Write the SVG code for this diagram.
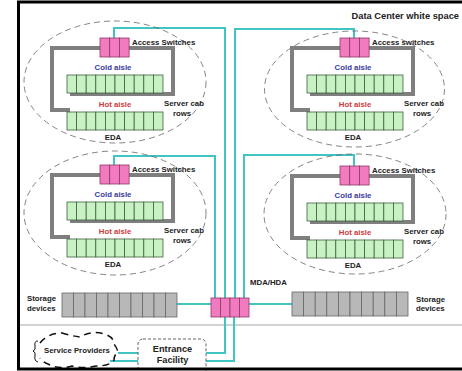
<svg xmlns="http://www.w3.org/2000/svg" width="462" height="371" viewBox="0 0 462 371">
<defs>
<style>
text{font-family:"Liberation Sans",Arial,sans-serif;font-weight:bold;font-size:7.8px;fill:#222}
.cold{fill:#3a3a9e}
.hot{fill:#d03a3a}
.mid{text-anchor:middle}
.ell{fill:none;stroke:#666;stroke-width:0.8;stroke-dasharray:6 4}
.brk{fill:none;stroke:#7f7f7f;stroke-width:4}
.g{fill:#c9f2c4;stroke:#3f5f3f;stroke-width:0.8}
.p{fill:#f27bbf;stroke:#8c3a6a;stroke-width:0.8}
.s{fill:#b8b8b8;stroke:#666;stroke-width:0.8}
.cy{fill:none;stroke:#40c4c4;stroke-width:2}
</style>
<g id="rows">
<rect class="g" x="67" y="75" width="9.6" height="18"/><rect class="g" x="76.6" y="75" width="9.6" height="18"/><rect class="g" x="86.2" y="75" width="9.6" height="18"/><rect class="g" x="95.8" y="75" width="9.6" height="18"/><rect class="g" x="105.4" y="75" width="9.6" height="18"/><rect class="g" x="115" y="75" width="9.6" height="18"/><rect class="g" x="124.6" y="75" width="9.6" height="18"/><rect class="g" x="134.2" y="75" width="9.6" height="18"/><rect class="g" x="143.8" y="75" width="9.6" height="18"/><rect class="g" x="153.4" y="75" width="9.6" height="18"/>
<rect class="g" x="67" y="112" width="9.6" height="18"/><rect class="g" x="76.6" y="112" width="9.6" height="18"/><rect class="g" x="86.2" y="112" width="9.6" height="18"/><rect class="g" x="95.8" y="112" width="9.6" height="18"/><rect class="g" x="105.4" y="112" width="9.6" height="18"/><rect class="g" x="115" y="112" width="9.6" height="18"/><rect class="g" x="124.6" y="112" width="9.6" height="18"/><rect class="g" x="134.2" y="112" width="9.6" height="18"/><rect class="g" x="143.8" y="112" width="9.6" height="18"/><rect class="g" x="153.4" y="112" width="9.6" height="18"/>
</g>
<g id="sw">
<rect class="p" x="100" y="38" width="9.7" height="19"/><rect class="p" x="109.7" y="38" width="9.7" height="19"/><rect class="p" x="119.4" y="38" width="9.7" height="19"/>
</g>
<g id="room">
<path class="brk" d="M70 110 H52 V48 H173 V94 H70"/>
<use href="#rows"/>
<use href="#sw"/>
<text x="113" y="70" class="cold mid">Cold aisle</text>
<text x="115" y="107" class="hot mid">Hot aisle</text>
<text x="184" y="106" class="mid">Server cab</text>
<text x="182" y="116" class="mid">rows</text>
<text x="113" y="140" class="mid">EDA</text>
</g>
</defs>
<rect x="0" y="0" width="462" height="371" fill="#fff"/>
<line x1="20" y1="325" x2="462" y2="325" stroke="#c4c4c4" stroke-width="1.5"/>
<text x="459" y="19" style="font-size:9.3px;text-anchor:end">Data Center white space</text>

<g id="connectors">
<path class="cy" d="M114 38 V28 H225 V298"/>
<path class="cy" d="M354 38 V29 H235 V298"/>
<path class="cy" d="M114 165 V156 H215 V298"/>
<path class="cy" d="M354 166 V155 H244 V298"/>
<path class="cy" d="M177 304 H211"/>
<path class="cy" d="M249 304 H292"/>
<path class="cy" d="M225 317 V353 H206"/>
<path class="cy" d="M234 317 V361 H206"/>
<path class="cy" d="M118 353 H138"/>
<path class="cy" d="M110 361 H138"/>
</g>

<g id="room-tl">
<ellipse class="ell" cx="115" cy="82" rx="91" ry="61"/>
<use href="#room"/>
<text x="132" y="45">Access Switches</text>
</g>
<g id="room-tr">
<ellipse class="ell" cx="354.5" cy="89" rx="90" ry="58"/>
<use href="#room" transform="translate(240,0)"/>
<text x="372" y="45">Access switches</text>
</g>
<g id="room-bl">
<ellipse class="ell" cx="115" cy="213" rx="91" ry="62"/>
<use href="#room" transform="translate(0,127)"/>
<text x="132" y="172">Access Switches</text>
</g>
<g id="room-br">
<ellipse class="ell" cx="355" cy="214" rx="91" ry="60"/>
<use href="#room" transform="translate(240,128)"/>
<text x="372" y="173">Access Switches</text>
</g>

<g id="mda">
<rect class="p" x="211" y="298" width="9.5" height="19"/><rect class="p" x="220.5" y="298" width="9.5" height="19"/><rect class="p" x="230" y="298" width="9.5" height="19"/><rect class="p" x="239.5" y="298" width="9.5" height="19"/>
<text x="250" y="285">MDA/HDA</text>
</g>
<g id="storage-left">
<rect class="s" x="62" y="293" width="11.5" height="24"/><rect class="s" x="73.5" y="293" width="11.5" height="24"/><rect class="s" x="85" y="293" width="11.5" height="24"/><rect class="s" x="96.5" y="293" width="11.5" height="24"/><rect class="s" x="108" y="293" width="11.5" height="24"/><rect class="s" x="119.5" y="293" width="11.5" height="24"/><rect class="s" x="131" y="293" width="11.5" height="24"/><rect class="s" x="142.5" y="293" width="11.5" height="24"/><rect class="s" x="154" y="293" width="11.5" height="24"/><rect class="s" x="165.5" y="293" width="11.5" height="24"/>
<text x="27" y="301">Storage</text>
<text x="27" y="311">devices</text>
</g>
<g id="storage-right">
<rect class="s" x="292" y="292" width="11.6" height="24"/><rect class="s" x="303.6" y="292" width="11.6" height="24"/><rect class="s" x="315.2" y="292" width="11.6" height="24"/><rect class="s" x="326.8" y="292" width="11.6" height="24"/><rect class="s" x="338.4" y="292" width="11.6" height="24"/><rect class="s" x="350" y="292" width="11.6" height="24"/><rect class="s" x="361.6" y="292" width="11.6" height="24"/><rect class="s" x="373.2" y="292" width="11.6" height="24"/><rect class="s" x="384.8" y="292" width="11.6" height="24"/><rect class="s" x="396.4" y="292" width="11.6" height="24"/>
<text x="416" y="302">Storage</text>
<text x="416" y="311">devices</text>
</g>
<g id="service-providers">
<path d="M38 341 Q34 341 35 346 Q36 350 33 351 Q36 352 35 356 Q34 361 38 362" fill="none" stroke="#111" stroke-width="1"/>
<path d="M40 343 Q48 333 62 333 Q72 336 80 337 Q92 330 104 334 Q114 337 114 344 Q117 348 118 352 Q114 355 114 360 Q110 366 96 366 Q84 369 72 366 Q58 370 48 364 Q42 362 40 358" fill="none" stroke="#111" stroke-width="1.5" stroke-dasharray="7 5"/>
<text x="44" y="353">Service Providers</text>
</g>
<g id="entrance-facility">
<rect x="138" y="339" width="68" height="36" rx="5" fill="#fff" stroke="#555" stroke-width="0.9" stroke-dasharray="3 2"/>
<text x="172.5" y="352" class="mid" style="font-size:9.2px">Entrance</text>
<text x="172.5" y="363" class="mid" style="font-size:9.2px">Facility</text>
</g>
<rect x="18.5" y="2" width="460" height="367" fill="none" stroke="#000" stroke-width="3"/>
</svg>
